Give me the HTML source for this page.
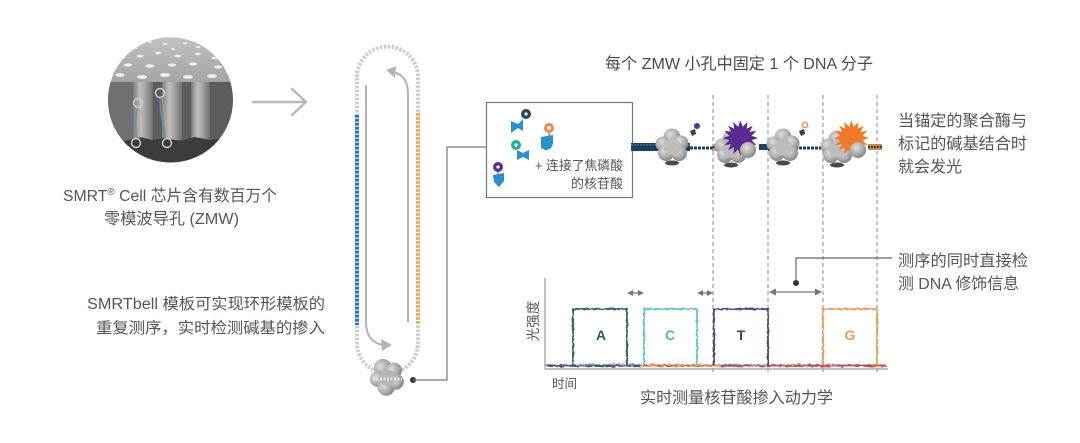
<!DOCTYPE html>
<html><head><meta charset="utf-8"><style>
html,body{margin:0;padding:0;background:#fff;}
svg{display:block;}
text{font-family:"Liberation Sans","Noto Sans CJK SC",sans-serif;fill:#555;}
</style></head><body>
<svg width="1080" height="443" viewBox="0 0 1080 443" xmlns="http://www.w3.org/2000/svg">
<defs>
  <clipPath id="cc"><circle cx="170.5" cy="100" r="62.5"/></clipPath>
  <linearGradient id="topg" x1="0" y1="0" x2="0" y2="1"><stop offset="0" stop-color="#c6c6c6"/><stop offset="1" stop-color="#a4a4a4"/></linearGradient>
  <linearGradient id="pil" x1="0" y1="0" x2="1" y2="0"><stop offset="0" stop-color="#7a7a7a"/><stop offset="0.35" stop-color="#c0c0c0"/><stop offset="0.7" stop-color="#989898"/><stop offset="1" stop-color="#6e6e6e"/></linearGradient>
  <radialGradient id="pg" cx="0.4" cy="0.35" r="0.7"><stop offset="0" stop-color="#dedede"/><stop offset="0.6" stop-color="#ababab"/><stop offset="1" stop-color="#7d7d7d"/></radialGradient>
  <g id="pol">
    <circle cx="0" cy="-9" r="8.5" fill="url(#pg)"/>
    <circle cx="-9" cy="-2" r="7.5" fill="url(#pg)"/>
    <circle cx="9" cy="-3" r="7.5" fill="url(#pg)"/>
    <circle cx="-6" cy="7" r="8" fill="url(#pg)"/>
    <circle cx="7" cy="7" r="8" fill="url(#pg)"/>
    <circle cx="0" cy="1" r="8.5" fill="#bcbcbc"/>
    <ellipse cx="0" cy="17" rx="7" ry="2.5" fill="#4a4a4a"/>
  </g>
  <filter id="noise" x="-5%" y="-200%" width="110%" height="500%">
    <feTurbulence type="fractalNoise" baseFrequency="0.25 0.6" numOctaves="2" seed="3"/>
    <feDisplacementMap in="SourceGraphic" scale="4" xChannelSelector="R" yChannelSelector="G"/>
  </filter>
  <filter id="noise2" x="-5%" y="-20%" width="110%" height="140%">
    <feTurbulence type="fractalNoise" baseFrequency="0.3" numOctaves="2" seed="7"/>
    <feDisplacementMap in="SourceGraphic" scale="2.5" xChannelSelector="R" yChannelSelector="G"/>
  </filter>
</defs>

<!-- ZMW circle -->
<g clip-path="url(#cc)">
  <rect x="100" y="30" width="140" height="140" fill="#5d5d5d"/>
  <rect x="100" y="30" width="140" height="52" fill="url(#topg)"/>
  <g fill="#ededed">
    <ellipse cx="150" cy="42" rx="2" ry="0.9"/><ellipse cx="165" cy="44" rx="2.5" ry="1"/><ellipse cx="185" cy="43" rx="2" ry="0.9"/>
    <ellipse cx="198" cy="47" rx="2.5" ry="1"/><ellipse cx="135" cy="48" rx="2.5" ry="1"/><ellipse cx="173" cy="49" rx="2" ry="0.9"/>
    <ellipse cx="140" cy="56" rx="3.5" ry="1.4"/><ellipse cx="158" cy="53" rx="3" ry="1.2"/><ellipse cx="178" cy="56" rx="3.5" ry="1.4"/>
    <ellipse cx="198" cy="54" rx="3" ry="1.2"/><ellipse cx="215" cy="58" rx="3.5" ry="1.4"/><ellipse cx="123" cy="57" rx="3" ry="1.2"/>
    <ellipse cx="128" cy="65" rx="4" ry="1.6"/><ellipse cx="150" cy="66" rx="4.5" ry="1.7"/><ellipse cx="172" cy="65" rx="4" ry="1.6"/>
    <ellipse cx="193" cy="64" rx="4" ry="1.6"/><ellipse cx="218" cy="67" rx="4" ry="1.6"/><ellipse cx="112" cy="67" rx="3" ry="1.3"/>
    <ellipse cx="120" cy="75" rx="4.5" ry="1.9"/><ellipse cx="142" cy="77" rx="5" ry="2"/><ellipse cx="165" cy="75" rx="5" ry="2"/>
    <ellipse cx="188" cy="77" rx="5" ry="2"/><ellipse cx="212" cy="76" rx="5" ry="2"/><ellipse cx="229" cy="72" rx="3" ry="1.5"/>
  </g>
  <rect x="108" y="82" width="25" height="58" fill="#707070"/>
  <rect x="133" y="82" width="20" height="58" fill="url(#pil)"/>
  <rect x="162" y="82" width="20" height="58" fill="url(#pil)"/>
  <rect x="191" y="82" width="19" height="58" fill="url(#pil)"/>
  <path d="M100,140 L115,138 L125,141 L140,137 L152,140 L165,138 L180,141 L195,137 L210,140 L225,138 L240,140 L240,170 L100,170 Z" fill="#3c3c3c"/>
  <path d="M138,107 C134,118 136,130 137,139" stroke="#4a9ad0" stroke-width="1.3" fill="none"/>
  <path d="M140,107 C138,118 140,130 139,139" stroke="#d9a15c" stroke-width="1" fill="none"/>
  <path d="M160,97 C160,115 164,128 166,139" stroke="#4a9ad0" stroke-width="1.5" fill="none"/>
  <path d="M162,97 C163,115 167,128 168,139" stroke="#d9a15c" stroke-width="1" fill="none"/>
  <g fill="none" stroke="#d0d0d0" stroke-width="1.4">
    <circle cx="138" cy="103" r="4.5"/><circle cx="136" cy="143" r="4.5"/>
    <circle cx="160" cy="93" r="4.5"/><circle cx="167" cy="143" r="4.5"/>
  </g>
</g>

<!-- arrow -->
<g stroke="#b8b8b8" stroke-width="2.4" fill="none" stroke-linecap="round">
  <line x1="253" y1="102" x2="306" y2="102"/>
  <polyline points="292,89 306,102 292,115"/>
</g>

<text x="63" y="201" font-size="16" textLength="214" lengthAdjust="spacingAndGlyphs">SMRT<tspan font-size="10" dy="-6">®</tspan><tspan dy="6"> Cell 芯片含有数百万个</tspan></text>
<text x="104" y="224" font-size="16" textLength="135" lengthAdjust="spacingAndGlyphs">零模波导孔 (ZMW)</text>

<text x="87" y="309" font-size="15.5" textLength="238" lengthAdjust="spacingAndGlyphs">SMRTbell 模板可实现环形模板的</text>
<text x="96" y="333" font-size="15.5" textLength="229" lengthAdjust="spacingAndGlyphs">重复测序，实时检测碱基的掺入</text>

<!-- SMRTbell loop -->
<path d="M357,77 A30.5,30.5 0 0 1 418,77 L418,343 A30.5,30.5 0 0 1 357,343 Z" fill="none" stroke="#cdcdcd" stroke-width="4" stroke-dasharray="2.6 1.4"/>
<line x1="357" y1="115" x2="357" y2="325" stroke="#1f7fc4" stroke-width="4" stroke-dasharray="2.6 1.4"/>
<line x1="418" y1="113" x2="418" y2="323" stroke="#f2aa55" stroke-width="4" stroke-dasharray="2.6 1.4"/>
<g stroke="#b4b4b4" stroke-width="2" fill="none">
  <path d="M366,85 L366,322 Q366,342 383,345"/>
  <path d="M408,322 L408,94 Q408,75 393,72"/>
</g>
<polygon points="392,345 381,339 382,351" fill="#b4b4b4"/>
<polygon points="386,70 396,66 395,78" fill="#b4b4b4"/>
<g transform="translate(387,377) rotate(-25)">
  <circle cx="0" cy="-10" r="9" fill="url(#pg)"/>
  <circle cx="-9" cy="-2" r="8" fill="url(#pg)"/>
  <circle cx="9" cy="-3" r="8" fill="url(#pg)"/>
  <circle cx="-5" cy="9" r="8.5" fill="url(#pg)"/>
  <circle cx="6" cy="8" r="8" fill="url(#pg)"/>
  <circle cx="0" cy="1" r="8" fill="#b5b5b5"/>
</g>
<line x1="373" y1="379" x2="402" y2="379" stroke="#e4e4e4" stroke-width="3" stroke-dasharray="2 1.5"/>

<!-- connector -->
<circle cx="413" cy="380" r="3" fill="#333"/>
<polyline points="413,380 447,380 447,147 487,147" fill="none" stroke="#777" stroke-width="1.2"/>

<!-- box -->
<rect x="486.5" y="102.5" width="146" height="95" fill="#fff" stroke="#777" stroke-width="1.2"/>
<g>
  <path d="M511,121 L518,124 L523,119 L523,131 L518,128 L511,133 Z" fill="#2a8fd0"/>
  <circle cx="526" cy="114" r="5" fill="#23475f"/><circle cx="526" cy="114" r="1.6" fill="#fff"/>
  <path d="M541,137 L553,135 L553,143 Q552,150 545,150 L541,148 Z" fill="#2a8fd0"/>
  <circle cx="549" cy="128" r="5" fill="#f08840"/><circle cx="549" cy="128" r="2" fill="#fff"/>
  <line x1="549" y1="133" x2="549" y2="136" stroke="#555" stroke-width="1"/>
  <path d="M517,150 L523,153 L529,150 L529,160 L523,157 L517,160 Z" fill="#2a8fd0"/>
  <circle cx="516" cy="145" r="5" fill="#2aa89a"/><circle cx="516" cy="145" r="1.6" fill="#fff"/>
  <path d="M493,175 L504,173 L504,181 L499,187 L494,182 Z" fill="#2a8fd0"/>
  <circle cx="498" cy="167" r="5" fill="#5a2d91"/><circle cx="498" cy="167" r="1.6" fill="#fff"/>
  <line x1="498" y1="172" x2="498" y2="174" stroke="#555" stroke-width="1"/>
</g>
<text x="535" y="170" font-size="13" textLength="88" lengthAdjust="spacingAndGlyphs">+ 连接了焦磷酸</text>
<text x="571" y="188" font-size="13" textLength="52" lengthAdjust="spacingAndGlyphs">的核苷酸</text>

<!-- title -->
<text x="605" y="69" font-size="16" textLength="268" lengthAdjust="spacingAndGlyphs" style="fill:#4a4a4a">每个 ZMW 小孔中固定 1 个 DNA 分子</text>

<!-- dashed lines -->
<g stroke="#8a8a8a" stroke-width="1" stroke-dasharray="4 3">
  <line x1="713" y1="95" x2="713" y2="372"/>
  <line x1="768" y1="95" x2="768" y2="372"/>
  <line x1="823" y1="95" x2="823" y2="372"/>
  <line x1="877" y1="95" x2="877" y2="372"/>
</g>

<!-- DNA strand -->
<g>
  <rect x="631" y="143" width="59" height="8" fill="#1e3f5f"/>
  <line x1="631" y1="145" x2="690" y2="145" stroke="#4f84b0" stroke-width="1" stroke-dasharray="2 1"/>
  <line x1="690" y1="148" x2="713" y2="148" stroke="#1e3f5f" stroke-width="3" stroke-dasharray="3 1"/>
  <rect x="713" y="144" width="22" height="7" fill="#d09a55"/>
  <line x1="713" y1="147" x2="735" y2="147" stroke="#1e3f5f" stroke-width="2" stroke-dasharray="2 2"/>
  <rect x="759" y="144" width="9" height="6" fill="#1e3f5f"/>
  <rect x="768" y="143" width="27" height="8" fill="#1e3f5f"/>
  <line x1="768" y1="145" x2="795" y2="145" stroke="#4f84b0" stroke-width="1" stroke-dasharray="2 1"/>
  <line x1="795" y1="148" x2="823" y2="148" stroke="#1e3f5f" stroke-width="3" stroke-dasharray="3 1"/>
  <rect x="823" y="144" width="24" height="7" fill="#d09a55"/>
  <line x1="823" y1="147" x2="847" y2="147" stroke="#1e3f5f" stroke-width="2" stroke-dasharray="2 2"/>
  <rect x="868" y="144" width="14" height="6" fill="#c98a45"/>
  <line x1="868" y1="147" x2="882" y2="147" stroke="#1e3f5f" stroke-width="2" stroke-dasharray="2 1"/>
</g>
<use href="#pol" x="672" y="146"/>
<use href="#pol" x="783" y="146"/>
<use href="#pol" x="731" y="148"/>
<use href="#pol" x="837" y="148"/>
<!-- bursts -->
<polygon fill="#5a2a8f" points="758,138 751.6,140.3 756.4,145.1 749.7,144.3 752.7,150.3 746.7,147.3 747.5,154 742.7,149.2 740.4,155.6 738.1,149.2 733.3,154 734.1,147.3 728.1,150.3 731.1,144.3 724.4,145.1 729.2,140.3 722.8,138 729.2,135.7 724.4,130.9 731.1,131.7 728.1,125.7 734.1,128.7 733.3,122 738.1,126.8 740.4,120.4 742.7,126.8 747.5,122 746.7,128.7 752.7,125.7 749.7,131.7 756.4,130.9 751.6,135.7"/>
<circle cx="748" cy="150" r="8" fill="url(#pg)"/>
<polygon fill="#f07a2a" points="869,138 862.6,140.3 867.4,145.1 860.7,144.3 863.7,150.3 857.7,147.3 858.5,154 853.7,149.2 851.4,155.6 849.1,149.2 844.3,154 845.1,147.3 839.1,150.3 842.1,144.3 835.4,145.1 840.2,140.3 833.8,138 840.2,135.7 835.4,130.9 842.1,131.7 839.1,125.7 845.1,128.7 844.3,122 849.1,126.8 851.4,120.4 853.7,126.8 858.5,122 857.7,128.7 863.7,125.7 860.7,131.7 867.4,130.9 862.6,135.7"/>
<circle cx="858" cy="150" r="8" fill="url(#pg)"/>
<!-- small nucleotides -->
<circle cx="697" cy="126" r="3" fill="#5a2d91"/><path d="M690,131 L695,129 L696,134 L692,136 Z" fill="#23475f"/>
<circle cx="805" cy="125" r="2.8" fill="#fff" stroke="#f08840" stroke-width="1.2"/><path d="M799,131 L804,129 L805,134 L801,136 Z" fill="#23475f"/>

<!-- right texts -->
<text x="898" y="126" font-size="16" textLength="129" lengthAdjust="spacingAndGlyphs">当锚定的聚合酶与</text>
<text x="898" y="149" font-size="16" textLength="129" lengthAdjust="spacingAndGlyphs">标记的碱基结合时</text>
<text x="898" y="172" font-size="16" textLength="64" lengthAdjust="spacingAndGlyphs">就会发光</text>
<text x="898" y="266" font-size="16" textLength="130" lengthAdjust="spacingAndGlyphs">测序的同时直接检</text>
<text x="898" y="289" font-size="16" textLength="121" lengthAdjust="spacingAndGlyphs">测 DNA 修饰信息</text>

<!-- callout connector -->
<g stroke="#666" stroke-width="1.2" fill="none">
  <polyline points="892,258 796,258 796,283"/>
</g>
<circle cx="796" cy="283" r="3" fill="#333"/>
<g stroke="#777" stroke-width="1.3">
  <line x1="772" y1="292" x2="819" y2="292"/>
  <line x1="631" y1="293" x2="640" y2="293"/>
  <line x1="701" y1="293" x2="709" y2="293"/>
</g>
<g fill="#777">
  <polygon points="769,292 776,288.5 776,295.5"/><polygon points="822,292 815,288.5 815,295.5"/>
  <polygon points="627,293 633,290 633,296"/><polygon points="644,293 638,290 638,296"/>
  <polygon points="697,293 703,290 703,296"/><polygon points="713,293 707,290 707,296"/>
</g>

<!-- chart -->
<g stroke="#9a9a9a" stroke-width="1.2" fill="none">
  <line x1="545" y1="278" x2="545" y2="369"/>
  <line x1="545" y1="369" x2="888" y2="369"/>
</g>
<g fill="none" stroke-width="1.4" filter="url(#noise)">
  <line x1="546" y1="366" x2="886" y2="366" stroke="#b65a4a"/>
  <line x1="546" y1="365" x2="886" y2="365" stroke="#6a4a8a" opacity="0.7"/>
  <line x1="546" y1="366" x2="640" y2="366" stroke="#2f5b66"/>
  <line x1="640" y1="365" x2="720" y2="365" stroke="#e39a5a"/>
  <line x1="770" y1="366" x2="886" y2="366" stroke="#d24a3a" opacity="0.8"/>
</g>
<g fill="none" stroke-width="1.8" filter="url(#noise2)">
  <polyline points="573,365 573,309 627,309 627,365" stroke="#2f5b66"/>
  <polyline points="644,365 644,309 697,309 697,365" stroke="#62c4c4"/>
  <polyline points="714,365 714,309 768,309 768,365" stroke="#4a3a7c"/>
  <polyline points="823,365 823,309 877,309 877,365" stroke="#e79a55"/>
</g>
<g font-size="14" font-weight="bold" text-anchor="middle">
  <text x="601" y="340" style="fill:#2f5b66">A</text>
  <text x="670" y="340" style="fill:#4fb8b8">C</text>
  <text x="741" y="340" style="fill:#4a3a7c">T</text>
  <text x="850" y="340" style="fill:#e79a55">G</text>
</g>
<text x="0" y="0" font-size="13.5" text-anchor="middle" transform="translate(538,321) rotate(-90)">光强度</text>
<text x="552" y="388" font-size="12.5">时间</text>
<text x="640" y="403" font-size="16" textLength="193" lengthAdjust="spacingAndGlyphs">实时测量核苷酸掺入动力学</text>
</svg>
</body></html>
